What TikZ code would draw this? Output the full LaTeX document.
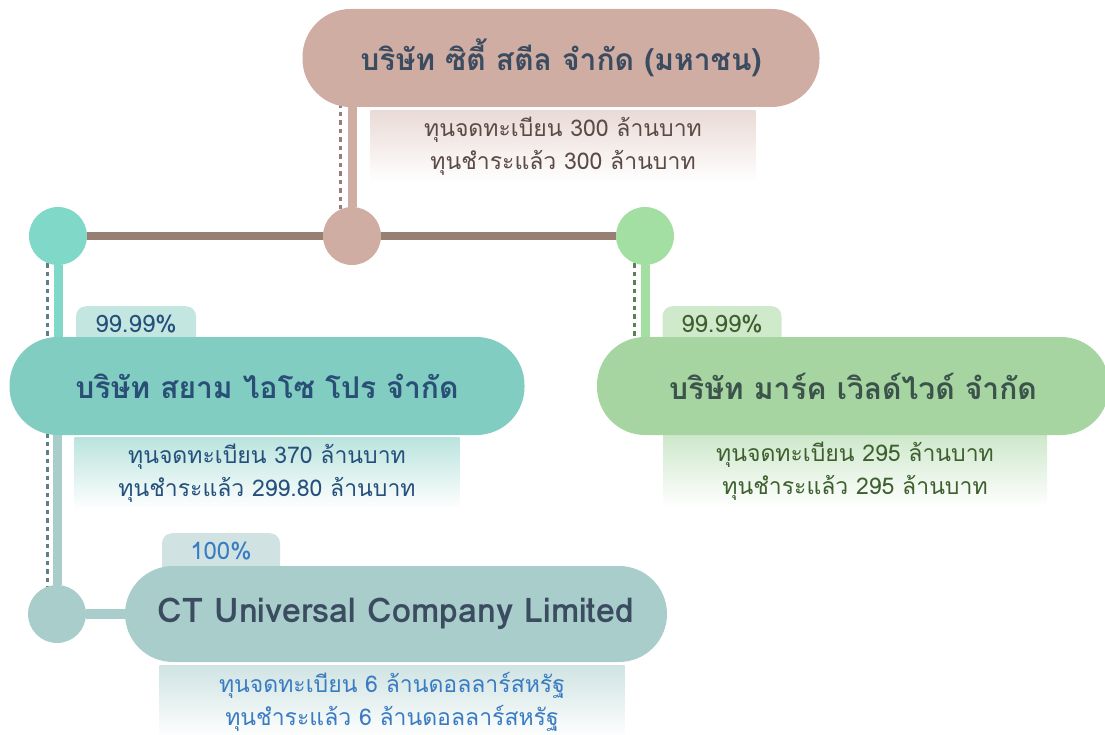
\documentclass[tikz,border=0pt]{standalone}
\usepackage{fontspec}
\newfontfamily\thaifont[Script=Thai]{Loma}
\usetikzlibrary{backgrounds}

\definecolor{toppink}{HTML}{CFADA3}
\definecolor{hline}{HTML}{978073}
\definecolor{siamdot}{HTML}{7FD8C8}
\definecolor{siampill}{HTML}{82CDC2}
\definecolor{siamtab}{HTML}{C3E6E0}
\definecolor{markdot}{HTML}{A3DEA3}
\definecolor{markpill}{HTML}{A6D5A1}
\definecolor{marktab}{HTML}{CFE9CB}
\definecolor{ctgray}{HTML}{A8CDCB}
\definecolor{cttab}{HTML}{D0E3E2}
\definecolor{titletext}{HTML}{3B4B60}
\definecolor{topcaptext}{HTML}{5B4A45}
\definecolor{siamtext}{HTML}{25507C}
\definecolor{marktext}{HTML}{3E5F2E}
\definecolor{cttext}{HTML}{3A7CC2}

\begin{document}
\begin{tikzpicture}[x=1pt,y=-1pt,
    pill/.style={rounded corners=48pt, minimum height=98pt, inner sep=0pt, text=titletext,
        font=\thaifont\bfseries\fontsize{30}{30}\selectfont},
    tab/.style={rounded corners=10pt, minimum height=44pt, inner sep=0pt, anchor=north,
        font=\thaifont\fontsize{24}{24}\selectfont},
    capbox/.style={minimum height=72pt, inner sep=0pt, anchor=north, align=center,
        bottom color=white, font=\thaifont\fontsize{23}{33}\selectfont},
    dot/.style={circle, minimum size=58pt, inner sep=0pt},
    dotline/.style={line width=3pt, dash pattern=on 4.5pt off 4pt},
    bar/.style={line width=9pt}]

    \useasboundingbox (0,0) rectangle (1105,735);

    % circles on the bus
    \node [dot, fill=siamdot] (siamdot) at (58,236) {};
    \node [dot, fill=toppink] (hub) at (352,236) {};
    \node [dot, fill=markdot] (markdot) at (645,236) {};
    \node [dot, fill=ctgray] (ctdot) at (57,614) {};

    % capital boxes
    \node [capbox, top color=toppink!45, minimum width=385pt, text=topcaptext] (topcap) at (563,110)
        {ทุนจดทะเบียน 300 ล้านบาท\\ทุนชำระแล้ว 300 ล้านบาท};
    \node [capbox, top color=siampill!55, minimum width=385pt, text=siamtext] (siamcap) at (267,437)
        {ทุนจดทะเบียน 370 ล้านบาท\\ทุนชำระแล้ว 299.80 ล้านบาท};
    \node [capbox, top color=markpill!55, minimum width=384pt, text=marktext] (markcap) at (855,435)
        {ทุนจดทะเบียน 295 ล้านบาท\\ทุนชำระแล้ว 295 ล้านบาท};
    \node [capbox, top color=ctgray!55, minimum width=465pt, minimum height=73pt, text=cttext] (ctcap) at (392,665)
        {ทุนจดทะเบียน 6 ล้านดอลลาร์สหรัฐ\\ทุนชำระแล้ว 6 ล้านดอลลาร์สหรัฐ};

    % share tabs
    \node [tab, fill=siamtab, minimum width=120pt, text=siamtext] (siamtab) at (136,306) {\raisebox{8pt}{99.99\%}};
    \node [tab, fill=marktab, minimum width=119pt, text=marktext] (marktab) at (722,306) {\raisebox{8pt}{99.99\%}};
    \node [tab, fill=cttab, minimum width=118pt, text=cttext] (cttab) at (221,533) {\raisebox{8pt}{100\%}};

    % company pills
    \node [pill, fill=toppink, minimum width=517pt] (top) at (561,58) {บริษัท ซิตี้ สตีล จำกัด (มหาชน)};
    \node [pill, fill=siampill, minimum width=515pt, text=siamtext!80!titletext] (siam) at (267,386) {บริษัท สยาม ไอโซ โปร จำกัด};
    \node [pill, fill=markpill, minimum width=512pt, text=marktext!40!titletext] (mark) at (853,386) {บริษัท มาร์ค เวิลด์ไวด์ จำกัด};
    \node [pill, fill=ctgray, minimum width=542pt, minimum height=96pt,
        font=\thaifont\bfseries\fontsize{34}{34}\selectfont] (ct) at (396,614) {CT Universal Company Limited};

    \coordinate (topdash) at ([xshift=-12pt]hub.north);
    \coordinate (siamdash) at ([xshift=-11pt]siamdot.south);
    \coordinate (markdash) at ([xshift=-11pt]markdot.south);

    \begin{scope}[on background layer]
        \draw [line width=8.6pt, hline] (siamdot) -- (markdot);
        \draw [bar, toppink] (hub) -- (hub |- top.south);
        \draw [bar, siamdot] (siamdot) -- (siamdot |- siam.center);
        \draw [bar, ctgray] (ctdot) -- (ctdot |- siam.center);
        \draw [bar, markdot] (markdot) -- (markdot |- mark.center);
        \draw [line width=10pt, ctgray] (ctdot) -- (ct);
        % dotted guides
        \draw [dotline, hline] ([yshift=4pt]topdash |- top.south) -- ([yshift=-2pt]topdash);
        \draw [dotline, siamtext!30!ctgray!75!black] ([yshift=2pt]siamdash) -- ([yshift=-2pt]siamdash |- ctdot.north);
        \draw [dotline, marktext!40!markdot!75!black] ([yshift=2pt]markdash) -- (markdash |- mark.center);
    \end{scope}
\end{tikzpicture}
\end{document}
